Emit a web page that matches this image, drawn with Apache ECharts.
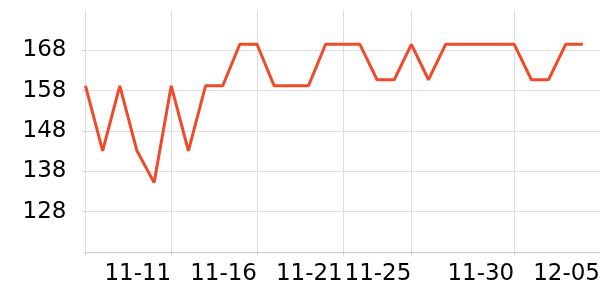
<!DOCTYPE html>
<html>
<head>
<meta charset="utf-8">
<script src="https://cdn.jsdelivr.net/npm/echarts@6/dist/echarts.min.js"></script>
<style>html,body{margin:0;padding:0;background:#fff}#c{width:600px;height:300px}</style>
</head>
<body>
<div id="c"></div>
<script>
// Categories (one slot per day, last slot has no value)
const categories = ['11-06','11-07','11-08','11-09','11-10','11-11','11-12','11-13','11-14','11-15',
  '11-16','11-17','11-18','11-19','11-20','11-21','11-22','11-23','11-24','11-25',
  '11-26','11-27','11-28','11-29','11-30','12-01','12-02','12-03','12-04','12-05','12-06'];
// Series values
const values = [159.2,143.1,159.2,143.1,135.2,159.2,143.1,159.2,159.2,169.5,
  169.5,159.2,159.2,159.2,169.5,169.5,169.5,160.7,160.7,169.5,
  160.7,169.5,169.5,169.5,169.5,169.5,160.7,160.7,169.5,169.5];
// X tick label placement (category index -> label)
const xTickIndices = [0,5,10,15,19,25,30];
const xTickLabels = ['','11-11','11-16','11-21','11-25','11-30','12-05'];
// Y tick labels
const yTicks = [128,138,148,158,168];
const yMin = 118, yMax = 178;

const isTick = (i) => xTickIndices.indexOf(i) >= 0;
const font = 'DejaVu Sans';
const chart = echarts.init(document.getElementById('c'), null, {renderer: 'canvas'});
chart.setOption({
  animation: false,
  grid: {left: 85.5, right: 0, top: 10, bottom: 48, containLabel: false, outerBoundsMode: 'none'},
  xAxis: {
    type: 'category',
    data: categories,
    boundaryGap: false,
    axisLine: {show: true, lineStyle: {color: '#c8c8c8', width: 1}},
    axisTick: {show: true, length: 3, interval: (i) => isTick(i), lineStyle: {color: '#c8c8c8'}},
    splitLine: {show: true, interval: (i) => isTick(i), lineStyle: {color: '#dddddd', width: 1}},
    axisLabel: {
      interval: (i) => isTick(i),
      formatter: (v, i) => { const k = xTickIndices.indexOf(i); return k >= 0 ? xTickLabels[k] : ''; },
      align: 'right',
      margin: 11,
      color: '#000',
      fontFamily: font,
      fontSize: 23
    }
  },
  yAxis: {
    type: 'value',
    min: yMin,
    max: yMax,
    axisLine: {show: false},
    axisTick: {show: true, length: 3, customValues: yTicks, lineStyle: {color: '#c8c8c8'}},
    splitLine: {show: true, lineStyle: {color: '#dddddd', width: 1}},
    axisLabel: {customValues: yTicks, margin: 19, color: '#000', fontFamily: font, fontSize: 23}
  },
  series: [{
    type: 'line',
    data: values,
    showSymbol: false,
    symbol: 'none',
    lineStyle: {color: '#EE4B2B', width: 3},
    itemStyle: {color: '#EE4B2B'}
  }]
});
</script>
</body>
</html>
